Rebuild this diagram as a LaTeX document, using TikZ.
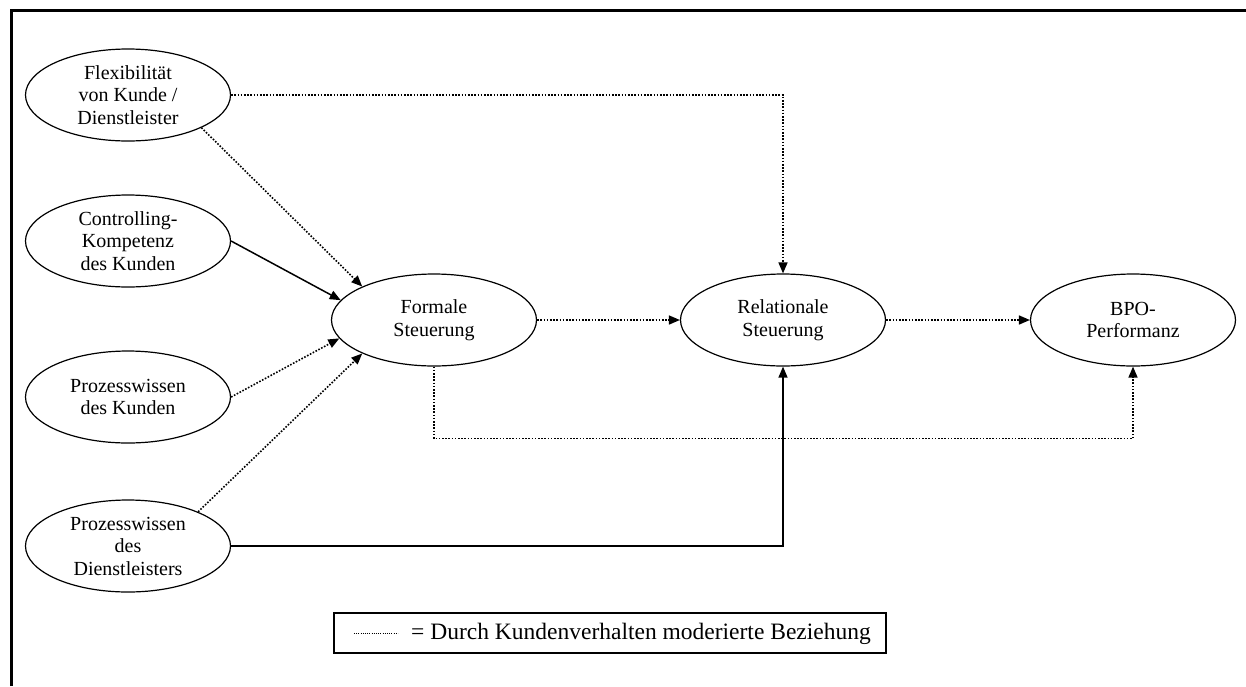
\documentclass[tikz,border=0pt]{standalone}
\usepackage{fontspec}
\setmainfont{Liberation Serif}
\usetikzlibrary{shapes.geometric,arrows.meta}
\begin{document}
\begin{tikzpicture}[x=1pt,y=-1pt,
  construct/.style={ellipse,draw,line width=1.2pt,minimum width=205pt,minimum height=92pt,
    inner sep=0pt,align=center,font=\fontsize{20}{22.5}\selectfont},
  tip/.style={-{Triangle[length=11pt,width=9pt]}},
  dotline/.style={tip,line width=1.6pt,dash pattern=on 1.6pt off 1.6pt},
  solidline/.style={tip,line width=1.5pt},
  legendbox/.style={draw,line width=1.2pt,minimum width=552pt,minimum height=40pt,inner sep=0pt},
  legenddots/.style={line width=0.9pt,dash pattern=on 0.9pt off 1.3pt}]
\useasboundingbox (0,0) rectangle (1246,686);
% page frame (top and left edges)
\draw[line width=2.5pt] (11.3,686) -- (11.3,10.5) -- (1246,10.5);

% constructs
\node[construct] (flex) at (128,95)  {Flexibilität\\von Kunde /\\Dienstleister};
\node[construct] (ctrl) at (128,241) {Controlling-\\Kompetenz\\des Kunden};
\node[construct] (pk)   at (128,397) {Prozesswissen\\des Kunden};
\node[construct] (pd)   at (128,546) {Prozesswissen\\des\\Dienstleisters};
\node[construct] (form) at (434,320) {Formale\\Steuerung};
\node[construct] (rel)  at (783,320) {Relationale\\Steuerung};
\node[construct] (bpo)  at (1133,320) {BPO-\\Performanz};

% relationships
\draw[dotline] (flex.east) -| (rel.north);
\draw[dotline] (flex.-24) -- (form.155);
\draw[solidline] (ctrl.east) -- (form.168);
\draw[dotline] (pk.east) -- (form.191);
\draw[dotline] (pd.26) -- (form.205);
\draw[solidline] (pd.east) -| (rel.south);
\draw[dotline] (form.east) -- (rel.west);
\draw[dotline] (rel.east) -- (bpo.west);
\draw[dotline] (form.south) -- ++(0,72) -| (bpo.south);

% legend
\node[legendbox] (leg) at (610,633) {};
\node[anchor=west,inner sep=0pt,font=\fontsize{23.5}{27}\selectfont] (legtxt) at (411,634) {= Durch Kundenverhalten moderierte Beziehung};
\coordinate (ls) at (354,633);
\coordinate (le) at (398,633);
\draw[legenddots] (ls) -- (le);
\end{tikzpicture}
\end{document}
